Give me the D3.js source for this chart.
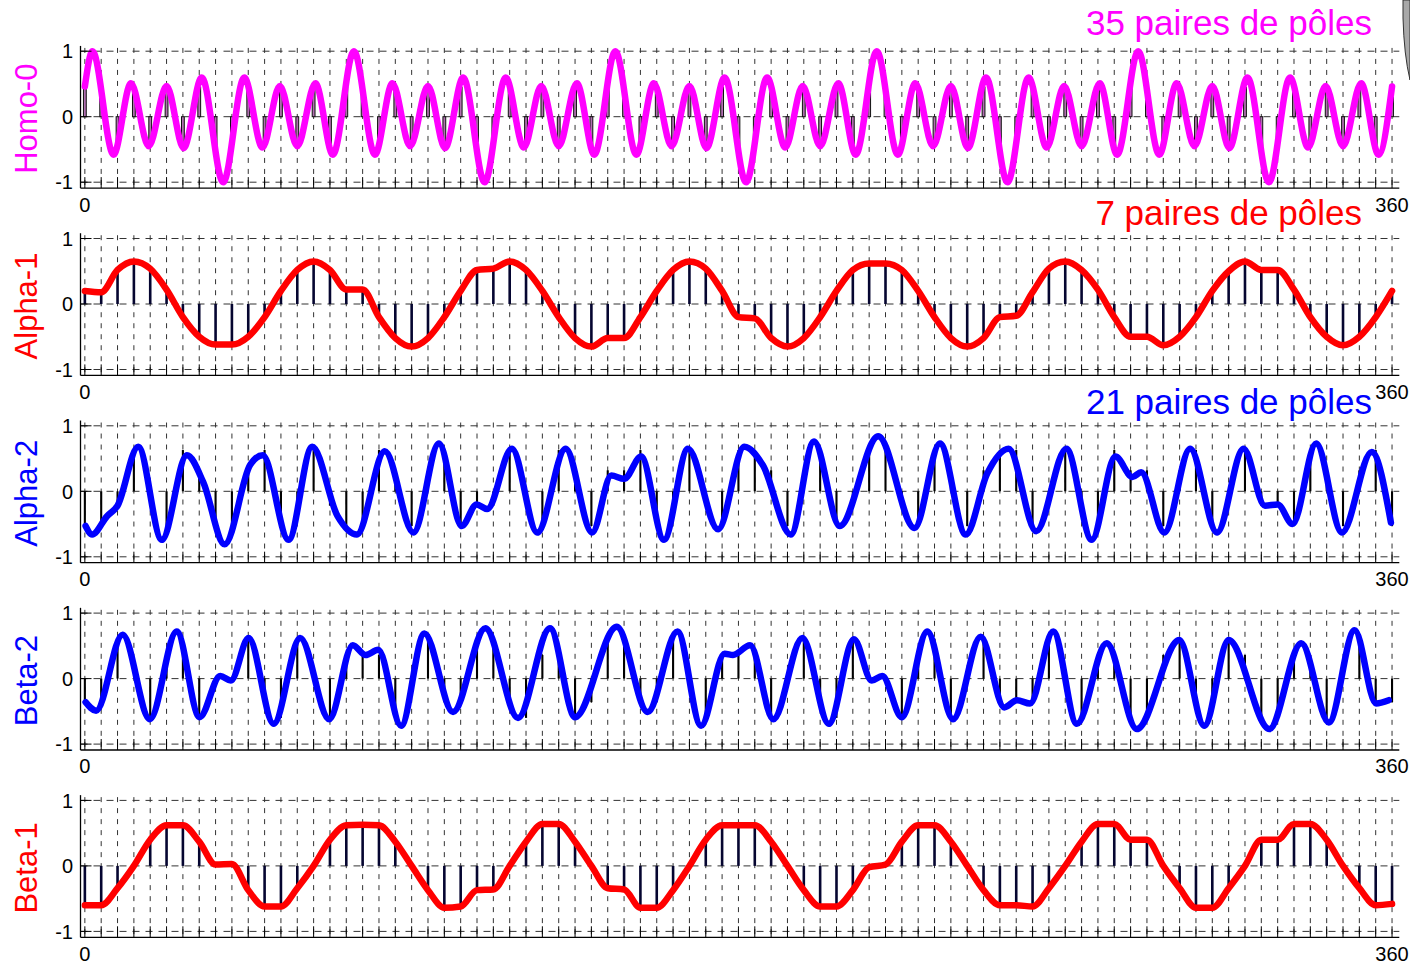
<!DOCTYPE html>
<html><head><meta charset="utf-8">
<script src="https://cdn.jsdelivr.net/npm/d3@7"></script>
<style>body{margin:0;background:#fff}svg{display:block}</style>
</head><body>
<svg id="chart" width="1410" height="964"></svg>
<script>
// ---------------- DATA ----------------
const slotDeg = d3.range(0, 360.001, 4.5);          // 81 stator slot positions (deg)
const xTickVals = [0, 360];
const xTickLabels = ["0", "360"];
const yTickVals = [1, 0, -1];
const yTickLabels = ["1", "0", "-1"];
const panelNames = ["Homo-0", "Alpha-1", "Alpha-2", "Beta-2", "Beta-1"];
const panelColors = ["#ff00ff", "#ff0000", "#0000ff", "#0000ff", "#ff0000"];
const titleTexts = ["35 paires de pôles", "7 paires de pôles", "21 paires de pôles"];

// stem values (one per slot)
const homoStems = [0.45,0.45,-0.45,0.45,-0.45,0.45,-0.45,0.45,-0.45,-0.45,0.45,-0.45,0.45,-0.45,0.45,-0.45,
 0.45,0.45,-0.45,0.45,-0.45,0.45,-0.45,0.45,-0.45,-0.45,0.45,-0.45,0.45,-0.45,0.45,-0.45,
 0.45,0.45,-0.45,0.45,-0.45,0.45,-0.45,0.45,-0.45,-0.45,0.45,-0.45,0.45,-0.45,0.45,-0.45,
 0.45,0.45,-0.45,0.45,-0.45,0.45,-0.45,0.45,-0.45,-0.45,0.45,-0.45,0.45,-0.45,0.45,-0.45,
 0.45,0.45,-0.45,0.45,-0.45,0.45,-0.45,0.45,-0.45,-0.45,0.45,-0.45,0.45,-0.45,0.45,-0.45,0.45];
const alpha1Stems = [0.21,0.21,0.51,0.61,0.51,0.21,-0.21,-0.51,-0.61,-0.61,-0.51,-0.21,0.21,0.51,0.61,0.51,0.21,0.21,-0.21,-0.51,
 -0.61,-0.51,-0.21,0.21,0.51,0.51,0.61,0.51,0.21,-0.21,-0.51,-0.61,-0.51,-0.51,-0.21,0.21,0.51,0.61,0.51,0.21,
 -0.21,-0.21,-0.51,-0.61,-0.51,-0.21,0.21,0.51,0.61,0.61,0.51,0.21,-0.21,-0.51,-0.61,-0.51,-0.21,-0.21,0.21,0.51,
 0.61,0.51,0.21,-0.21,-0.51,-0.51,-0.61,-0.51,-0.21,0.21,0.51,0.61,0.51,0.51,0.21,-0.21,-0.51,-0.61,-0.51,-0.21,0.21];
const alpha2Stems = [-0.53,-0.53,-0.22,0.63,-0.22,-0.53,0.63,0.32,-0.53,-0.53,
 0.32,0.63,-0.53,-0.22,0.63,-0.22,-0.53,-0.53,0.63,0.32,
 -0.53,0.32,0.63,-0.53,-0.22,-0.22,0.63,-0.22,-0.53,0.63,
 0.32,-0.53,0.32,0.32,0.63,-0.53,-0.22,0.63,-0.22,-0.53,
 0.63,0.63,0.32,-0.53,0.32,0.63,-0.53,-0.22,0.63,0.63,
 -0.22,-0.53,0.63,0.32,-0.53,0.32,0.63,0.63,-0.53,-0.22,
 0.63,-0.22,-0.53,0.63,0.32,0.32,-0.53,0.32,0.63,-0.53,
 -0.22,0.63,-0.22,-0.22,-0.53,0.63,0.32,-0.53,0.32,0.63,-0.53];
const beta2Stems = [-0.36,-0.36,0.61,0,-0.6,0.36,0.61,-0.6,0,0,
 0.61,-0.36,-0.6,0.61,0,-0.6,0.36,0.36,0.36,-0.6,
 0,0.61,-0.36,-0.36,0.61,0.61,-0.36,-0.6,0.36,0.36,
 -0.6,-0.36,0.61,0.61,-0.36,-0.36,0.61,0,-0.6,0.36,
 0.36,0.36,-0.6,0,0.61,-0.36,-0.6,0.61,0,0,
 -0.6,0.36,0.61,-0.6,0,0.61,-0.36,-0.36,-0.36,0.61,
 0,-0.6,0.36,0.36,-0.6,-0.6,0.36,0.61,-0.36,-0.36,
 0.61,0.36,-0.6,-0.6,0.36,0.36,-0.6,0,0.61,-0.36,-0.36];
const beta1Stems = [-0.6,-0.6,-0.37,0,0.37,0.6,0.6,0.37,0,0,
 -0.37,-0.6,-0.6,-0.37,0,0.37,0.6,0.6,0.6,0.37,
 0,-0.37,-0.6,-0.6,-0.37,-0.37,0,0.37,0.6,0.6,
 0.37,0,-0.37,-0.37,-0.6,-0.6,-0.37,0,0.37,0.6,
 0.6,0.6,0.37,0,-0.37,-0.6,-0.6,-0.37,0,0,
 0.37,0.6,0.6,0.37,0,-0.37,-0.6,-0.6,-0.6,-0.37,
 0,0.37,0.6,0.6,0.37,0.37,0,-0.37,-0.6,-0.6,
 -0.37,0,0.37,0.37,0.6,0.6,0.37,0,-0.37,-0.6,-0.6];

// curves: Homo-0, Alpha-2, Beta-2 given by their turning points (deg, value)
const homoCurveDeg = [0,2.1,7.9,12.7,17.6,22.5,27.2,32.2,38.1,43.9,48.9,53.7,58.5,63.5,68.3,
 74.1,79.9,84.7,89.6,94.5,99.2,104.2,110.1,115.9,120.9,125.7,130.5,135.5,140.3,
 146.1,151.9,156.7,161.6,166.5,171.2,176.2,182.1,187.9,192.9,197.7,202.5,207.5,212.3,
 218.1,223.9,228.7,233.6,238.5,243.2,248.2,254.1,259.9,264.9,269.7,274.5,279.5,284.3,
 290.1,295.9,300.7,305.6,310.5,315.2,320.2,326.1,331.9,336.9,341.7,346.5,351.5,356.3,360];
const homoCurveVal = [0.46,1.0,-0.58,0.51,-0.45,0.47,-0.48,0.6,-1.0,0.6,-0.47,0.47,-0.45,0.51,-0.58,
 1.0,-0.58,0.51,-0.45,0.47,-0.48,0.6,-1.0,0.6,-0.47,0.47,-0.45,0.51,-0.58,
 1.0,-0.58,0.51,-0.45,0.47,-0.48,0.6,-1.0,0.6,-0.47,0.47,-0.45,0.51,-0.58,
 1.0,-0.58,0.51,-0.45,0.47,-0.48,0.6,-1.0,0.6,-0.47,0.47,-0.45,0.51,-0.58,
 1.0,-0.58,0.51,-0.45,0.47,-0.48,0.6,-1.0,0.6,-0.47,0.47,-0.45,0.51,-0.58,0.46];
const alpha1Curve = [0.2,0.18,0.52,0.65,0.54,0.22,-0.2,-0.5,-0.62,-0.62,-0.5,-0.2,0.2,0.52,0.65,0.52,0.22,0.22,-0.2,-0.52,
 -0.65,-0.52,-0.2,0.2,0.52,0.54,0.65,0.52,0.2,-0.2,-0.52,-0.65,-0.52,-0.52,-0.2,0.2,0.52,0.65,0.54,0.2,
 -0.2,-0.22,-0.52,-0.65,-0.52,-0.2,0.2,0.52,0.62,0.62,0.52,0.2,-0.2,-0.52,-0.65,-0.52,-0.2,-0.18,0.18,0.54,
 0.65,0.52,0.22,-0.2,-0.5,-0.5,-0.63,-0.5,-0.2,0.2,0.5,0.65,0.52,0.52,0.22,-0.2,-0.5,-0.63,-0.5,-0.2,0.2];
const alpha2CurveDeg = [0.2,2.0,6.1,9.0,14.7,21.2,28.1,32.6,38.5,45.5,49.0,56.1,62.6,69.6,74.9,82.6,90.5,97.5,103.8,107.9,
 110.8,117.6,124.6,132.4,139.7,145.0,148.5,153.2,159.5,166.1,174.4,181.6,186.7,194.4,200.8,207.9,218.5,228.5,235.5,242.6,
 248.5,254.4,262.0,270.3,277.3,283.8,288.5,290.9,297.3,304.4,311.8,319.1,325.0,328.5,332.6,339.1,346.2,354.4,359.7];
const alpha2CurveVal = [-0.53,-0.66,-0.38,-0.22,0.68,-0.74,0.55,0.14,-0.81,0.4,0.55,-0.74,0.68,-0.38,-0.66,0.61,-0.63,0.73,-0.53,-0.2,
 -0.27,0.65,-0.63,0.65,-0.63,0.24,0.19,0.53,-0.74,0.65,-0.58,0.68,0.4,-0.66,0.76,-0.53,0.84,-0.56,0.73,-0.66,
 0.27,0.65,-0.61,0.65,-0.74,0.53,0.22,0.29,-0.63,0.65,-0.63,0.65,-0.22,-0.2,-0.5,0.73,-0.63,0.6,-0.48];
const beta2CurveDeg = [0.2,3.1,10.4,17.9,25.3,31.6,37.3,40.2,45.1,52.0,59.3,67.3,73.8,77.3,80.8,87.1,93.5,101.4,110.3,119.3,
 128.1,135.0,146.5,155.0,163.2,169.7,176.2,178.5,183.2,189.6,197.6,204.9,211.8,216.7,219.6,225.0,232.0,239.1,246.7,253.2,
 256.7,260.3,266.7,273.2,281.4,289.7,301.4,308.3,315.0,326.2,335.0,342.6,349.7,355.6,359.1];
const beta2CurveVal = [-0.36,-0.49,0.67,-0.62,0.72,-0.59,0.04,-0.03,0.62,-0.69,0.62,-0.62,0.51,0.36,0.44,-0.72,0.69,-0.51,0.77,-0.6,
 0.77,-0.59,0.79,-0.51,0.72,-0.72,0.38,0.36,0.51,-0.62,0.62,-0.69,0.6,-0.03,0.04,-0.59,0.72,-0.62,0.64,-0.44,
 -0.33,-0.38,0.72,-0.69,0.54,-0.77,0.59,-0.72,0.59,-0.77,0.54,-0.67,0.74,-0.38,-0.33];
const beta1Curve = [-0.6,-0.6,-0.34,0.0,0.4,0.62,0.62,0.37,0.02,0.03,
 -0.37,-0.62,-0.62,-0.34,0.0,0.4,0.62,0.63,0.62,0.37,
 0.0,-0.37,-0.64,-0.62,-0.37,-0.36,0.0,0.37,0.64,0.64,
 0.37,0.0,-0.34,-0.36,-0.64,-0.64,-0.37,0.0,0.4,0.62,
 0.62,0.62,0.37,0.0,-0.37,-0.62,-0.62,-0.37,-0.02,0.02,
 0.37,0.62,0.62,0.37,0.0,-0.37,-0.6,-0.6,-0.62,-0.34,
 0.0,0.37,0.64,0.64,0.4,0.4,0.0,-0.34,-0.64,-0.64,
 -0.34,0.0,0.4,0.4,0.64,0.64,0.4,0.0,-0.34,-0.6,-0.58];

// ---------------- LAYOUT ----------------
const svg = d3.select("#chart");
const font = "'Liberation Sans', Arial, Helvetica, sans-serif";
const zero0 = 116.7, pitch = 187.3, unit = 65.5;
const x = d3.scaleLinear().domain([-1.2, 362]).range([80.5, 1399.3]);

const panels = [
  {stems: homoStems, pts: homoCurveDeg.map((d,i)=>[d, homoCurveVal[i]]), homo: true},
  {stems: alpha1Stems, pts: slotDeg.map((d,i)=>[d, alpha1Curve[i]])},
  {stems: alpha2Stems, pts: alpha2CurveDeg.map((d,i)=>[d, alpha2CurveVal[i]])},
  {stems: beta2Stems, pts: beta2CurveDeg.map((d,i)=>[d, beta2CurveVal[i]])},
  {stems: beta1Stems, pts: slotDeg.map((d,i)=>[d, beta1Curve[i]])}
];
const titleBase = [35, 225, 414];
const titleRight = [1372, 1362, 1372];

panels.forEach((p, k) => {
  const z = zero0 + pitch * k;
  const y = d3.scaleLinear().domain([-1.09, 1.05]).range([z + 1.09 * unit, z - 1.05 * unit]);
  const g = svg.append("g");
  const top = y(1.05), bot = y(-1.09);

  // grid
  g.append("g").selectAll("line").data(slotDeg).join("line")
    .attr("x1", d => x(d)).attr("x2", d => x(d)).attr("y1", top).attr("y2", bot)
    .attr("stroke", "#333").attr("stroke-width", 1).attr("stroke-dasharray", "5,6");
  g.append("g").selectAll("line").data(yTickVals).join("line")
    .attr("x1", x(-1.2)).attr("x2", x(362)).attr("y1", d => y(d)).attr("y2", d => y(d))
    .attr("stroke", "#333").attr("stroke-width", 1).attr("stroke-dasharray", "7,6");

  // stems
  const st = g.append("g");
  if (p.homo) {
    st.selectAll("rect").data(p.stems).join("rect")
      .attr("x", (d,i) => x(slotDeg[i]) - 1.4).attr("width", 2.8)
      .attr("y", d => Math.min(y(d), y(0))).attr("height", d => Math.abs(y(d) - y(0)))
      .attr("fill", "#b070b0").attr("stroke", "#111").attr("stroke-width", 1);
  } else {
    st.selectAll("line").data(p.stems).join("line")
      .attr("x1", (d,i) => x(slotDeg[i])).attr("x2", (d,i) => x(slotDeg[i]))
      .attr("y1", y(0)).attr("y2", d => y(d))
      .attr("stroke", (k === 1 || k === 4) ? "#050530" : "#000")
      .attr("stroke-width", (k === 1 || k === 4) ? 2.6 : 2.1);
  }

  // curve
  const line = d3.line().x(d => x(d[0])).y(d => y(d[1])).curve(d3.curveMonotoneX);
  g.append("path").attr("d", line(p.pts)).attr("fill", "none")
    .attr("stroke", panelColors[k]).attr("stroke-width", 6.5)
    .attr("stroke-linejoin", "round").attr("stroke-linecap", "round");

  // axes
  g.append("line").attr("x1", x(-1.2)).attr("x2", x(-1.2)).attr("y1", top - 2).attr("y2", bot)
    .attr("stroke", "#000").attr("stroke-width", 1.3);
  g.append("line").attr("x1", x(-1.2)).attr("x2", x(362)).attr("y1", bot).attr("y2", bot)
    .attr("stroke", "#000").attr("stroke-width", 1.3);
  g.append("g").selectAll("line").data(slotDeg).join("line")
    .attr("x1", d => x(d)).attr("x2", d => x(d)).attr("y1", bot).attr("y2", bot - 11)
    .attr("stroke", "#000").attr("stroke-width", 1);
  g.append("g").selectAll("line").data(yTickVals).join("line")
    .attr("x1", x(-1.2)).attr("x2", x(-1.2) + 11).attr("y1", d => y(d)).attr("y2", d => y(d))
    .attr("stroke", "#000").attr("stroke-width", 1);

  // tick labels
  g.append("g").selectAll("text").data(yTickVals).join("text")
    .attr("x", 73).attr("y", d => y(d)).attr("dy", "0.36em").attr("text-anchor", "end")
    .attr("font-family", font).attr("font-size", 20).attr("fill", "#000")
    .text((d,i) => yTickLabels[i]);
  g.append("g").selectAll("text").data(xTickVals).join("text")
    .attr("x", d => x(d)).attr("y", bot + 23.5).attr("text-anchor", "middle")
    .attr("font-family", font).attr("font-size", 20).attr("fill", "#000")
    .text((d,i) => xTickLabels[i]);

  // y title
  g.append("text").attr("transform", `translate(37,${z + 2}) rotate(-90)`)
    .attr("text-anchor", "middle").attr("font-family", font).attr("font-size", 31)
    .attr("fill", panelColors[k]).text(panelNames[k]);

  if (k < titleTexts.length) {
    g.append("text").attr("x", titleRight[k]).attr("y", titleBase[k]).attr("text-anchor", "end")
      .attr("font-family", font).attr("font-size", 35).attr("fill", panelColors[k]).text(titleTexts[k]);
  }
});

// page-curl artefact in the top-right corner
svg.append("path").attr("d", "M1403,0 L1403,18 Q1404,55 1410,80 L1410,0 Z")
  .attr("fill", "#a8a8a8").attr("stroke", "#333").attr("stroke-width", 1);
</script>
</body></html>
